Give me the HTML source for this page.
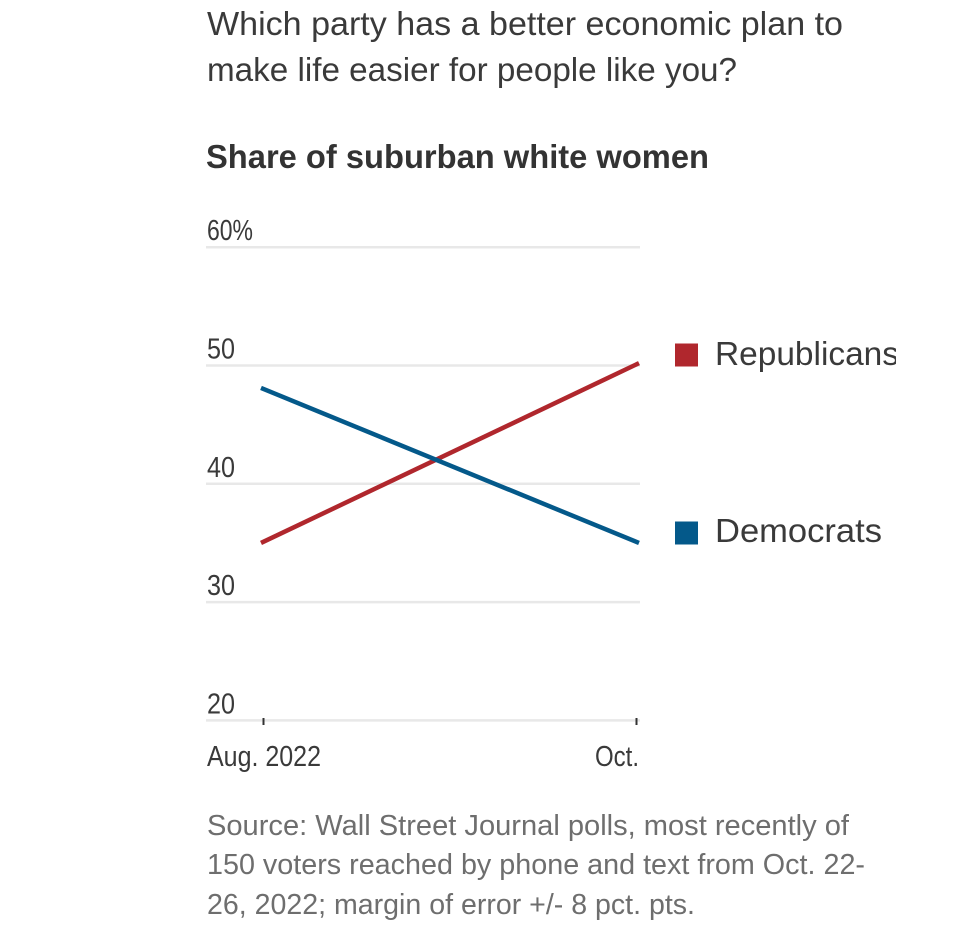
<!DOCTYPE html>
<html>
<head>
<meta charset="utf-8">
<style>
html,body{margin:0;padding:0;background:#fff;width:954px;height:926px;overflow:hidden}
svg{display:block}
text{font-family:"Liberation Sans",sans-serif}
</style>
</head>
<body>
<svg id="chart" width="954" height="926" viewBox="0 0 954 926" xmlns="http://www.w3.org/2000/svg">
<defs><clipPath id="legend-clip"><rect x="660" y="320" width="236" height="240"/></clipPath></defs>
<rect width="954" height="926" fill="#fff"/>
<g fill="#3a3a3a" font-size="33">
<text x="207" y="35" textLength="636" lengthAdjust="spacingAndGlyphs">Which party has a better economic plan to</text>
<text x="207" y="81" textLength="530" lengthAdjust="spacingAndGlyphs">make life easier for people like you?</text>
</g>
<text x="206" y="168" fill="#333" font-size="33" font-weight="700" textLength="503" lengthAdjust="spacingAndGlyphs">Share of suburban white women</text>
<g id="grid"></g>
<g id="ticks"></g>
<g id="series"></g>
<g id="legend" clip-path="url(#legend-clip)"></g>
<g fill="#6e6e6e" font-size="29">
<text x="207" y="835" textLength="642" lengthAdjust="spacingAndGlyphs">Source: Wall Street Journal polls, most recently of</text>
<text x="207" y="874" textLength="658" lengthAdjust="spacingAndGlyphs">150 voters reached by phone and text from Oct. 22-</text>
<text x="207" y="914" textLength="488" lengthAdjust="spacingAndGlyphs">26, 2022; margin of error +/- 8 pct. pts.</text>
</g>
</svg>
<script>
const categories = ['Aug. 2022', 'Oct.'];
const yTicks = [60, 50, 40, 30, 20];
const yTickLabels = ['60%', '50', '40', '30', '20'];
const republicans = [35, 50.2];
const democrats = [48.1, 35];

const NS = 'http://www.w3.org/2000/svg';
function x(i) { return 261 + i * 378; }
function y(v) { return 720.4 - (v - 20) * 11.83; }
function make(tag, parent, attrs) {
  const el = document.createElementNS(NS, tag);
  for (const k in attrs) el.setAttribute(k, attrs[k]);
  parent.appendChild(el);
  return el;
}

const grid = document.getElementById('grid');
yTicks.forEach((t, i) => {
  const line = make('line', grid, { x1: 206, x2: 640, y1: y(t), y2: y(t), stroke: '#e8e8e8', 'stroke-width': 2.5 });
  
  
  const label = make('text', grid, { x: 207, y: y(t) - 7, fill: '#3a3a3a', 'font-size': 29, lengthAdjust: 'spacingAndGlyphs', textLength: i === 0 ? 46 : 28 });
  label.textContent = yTickLabels[i];
  
  
});

const ticks = document.getElementById('ticks');
categories.forEach((c, i) => {
  const tx = x(i) + (i === 0 ? 2.5 : -2.5);
  const tick = make('line', ticks, { x1: tx, x2: tx, y1: 718, y2: 725, stroke: '#333', 'stroke-width': 2 });
  
  
  const attrs = i === 0
    ? { x: 207, y: 766, textLength: 114 }
    : { x: 595, y: 766, textLength: 44 };
  const label = make('text', ticks, Object.assign({ fill: '#3a3a3a', 'font-size': 29, lengthAdjust: 'spacingAndGlyphs' }, attrs));
  label.textContent = c;
  
  
});

const seriesGroup = document.getElementById('series');
function drawLine(values, color, name) {
  const pts = values.map((v, i) => x(i) + ',' + y(v)).join(' ');
  const line = make('polyline', seriesGroup, { points: pts, fill: 'none', stroke: color, 'stroke-width': 4.5 });
  
  
}
drawLine(republicans, '#b0272d', 'republicans-line');
drawLine(democrats, '#04598a', 'democrats-line');

const legendGroup = document.getElementById('legend');
function drawLegend(color, text, width, name, top, base) {
  const sw = make('rect', legendGroup, { x: 675, y: top, width: 23, height: 23, fill: color });
  
  
  const label = make('text', legendGroup, { x: 715, y: base, fill: '#3a3a3a', 'font-size': 33, textLength: width, lengthAdjust: 'spacingAndGlyphs' });
  label.textContent = text;
  
  
}
drawLegend('#b0272d', 'Republicans', 184, 'legend-republicans', 343.5, 365);
drawLegend('#04598a', 'Democrats', 167, 'legend-democrats', 521.5, 542);
</script>
</body>
</html>
